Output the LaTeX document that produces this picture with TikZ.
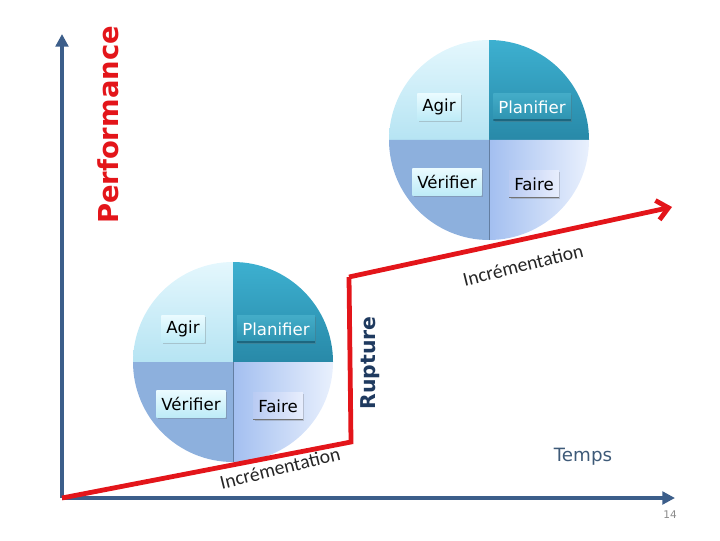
\documentclass[tikz,border=0pt]{standalone}
\usepackage{fontspec}
\setsansfont{DejaVu Sans}
\newfontfamily\incfont{Carlito}
\usetikzlibrary{arrows.meta, shadows, calc}
\definecolor{axisb}{HTML}{3C5E8A}
\definecolor{navy}{HTML}{1F3A5F}
\definecolor{tempc}{HTML}{3E5A78}
\definecolor{redl}{HTML}{E3151A}
\definecolor{cyanhi}{HTML}{E4F7FD}
\definecolor{cyanlo}{HTML}{B6E4F3}
\definecolor{tealhi}{HTML}{3DB0D0}
\definecolor{teallo}{HTML}{2889A8}
\definecolor{bluemid}{HTML}{8DB0DD}
\definecolor{lavl}{HTML}{A3BFF0}
\definecolor{lavr}{HTML}{E9F0FD}
\definecolor{boxhi}{HTML}{EAFBFF}
\definecolor{boxlo}{HTML}{BDEBF7}
\definecolor{boxtl}{HTML}{44ACC8}
\definecolor{boxtd}{HTML}{2D93B0}
\definecolor{boxfl}{HTML}{B9CBF3}
\definecolor{boxfr}{HTML}{E8EEFD}
\definecolor{edge}{HTML}{1D6780}
\definecolor{pagec}{HTML}{8A8A8A}

\begin{document}
\begin{tikzpicture}[
  x=0.025cm, y=0.025cm,
  font=\sffamily,
  axis/.style={draw=axisb, line width=2.8pt, -{Triangle[length=9pt, width=9pt]}},
  trend/.style={draw=redl, line width=3.4pt, line join=miter},
  lbl/.style={font=\sffamily\fontsize{11.8}{13}\selectfont, text=black,
              minimum height=0.68cm, inner xsep=3.6pt, inner ysep=0pt,
              drop shadow={shadow xshift=1.1pt, shadow yshift=-1.1pt,
                           opacity=0.28, fill=black!60}},
  light/.style={lbl, top color=boxhi, bottom color=boxlo},
  dark/.style={lbl, top color=boxtl, bottom color=boxtd, text=white,
               path picture={\draw[edge, line width=1.6pt]
                 (path picture bounding box.south west) --
                 (path picture bounding box.south east);}},
  soft/.style={lbl, left color=boxfl, right color=boxfr,
               path picture={\draw[black!55, line width=1.4pt]
                 (path picture bounding box.south west) --
                 (path picture bounding box.south east);}},
  incr/.style={font=\incfont\fontsize{14}{16}\selectfont, text=black!85, rotate=14},
]

\useasboundingbox (0,0) rectangle (720,540);

% ── axes ─────────────────────────────────────────────────────────────────────
\coordinate (o) at (62,42);
\coordinate (ytop) at (62,506);
\coordinate (xend) at (675,42);
\draw[axis] (o) -- (ytop);
\draw[axis] (o) -- (xend);

\node[rotate=90, text=redl, font=\sffamily\bfseries\fontsize{19.5}{22}\selectfont]
  (perf) at (108,415) {Performance};
\node[text=tempc, font=\sffamily\fontsize{13}{15}\selectfont] (temps) at (583,83) {Temps};
\node[text=pagec, font=\sffamily\fontsize{7.5}{9}\selectfont] (page) at (670,25) {14};

% ── PDCA wheels ──────────────────────────────────────────────────────────────
\foreach \cx/\cy/\n in {233/178/a, 489/400/b} {
  \coordinate (c\n) at (\cx,\cy);
  \shade[top color=cyanhi, bottom color=cyanlo]
    (c\n) -- ++(0,100) arc[start angle=90, end angle=180, radius=100] -- cycle;
  \shade[top color=tealhi, bottom color=teallo]
    (c\n) -- ++(100,0) arc[start angle=0, end angle=90, radius=100] -- cycle;
  \fill[bluemid]
    (c\n) -- ++(-100,0) arc[start angle=180, end angle=270, radius=100] -- cycle;
  \shade[left color=lavl, right color=lavr]
    (c\n) -- ++(0,-100) arc[start angle=270, end angle=360, radius=100] -- cycle;
  \draw[axisb!80, line width=0.5pt] (c\n) -- ++(0,-100);

  \node[light] (agir\n) at ($(c\n)+(-50,33)$) {Agir};
  \node[dark]  (plan\n) at ($(c\n)+(43,33)$)  {Planifier};
  \node[light] (veri\n) at ($(c\n)+(-42,-42)$) {Vérifier};
  \node[soft]  (fair\n) at ($(c\n)+(45,-44)$)  {Faire};
}

% ── trend line ───────────────────────────────────────────────────────────────
\coordinate (step1) at (351,98);
\coordinate (step2) at (349,263);
\coordinate (tip) at (672,333);
\draw[trend] (o) -- (step1) -- (step2);
\draw[trend, -{Straight Barb[length=8pt, width=14pt]}] (step2) -- (tip);

\node[incr] (inc1) at (280,72) {Incrémentation};
\node[incr] (inc2) at (523,275) {Incrémentation};
\node[rotate=90, text=navy, font=\sffamily\bfseries\fontsize{14.5}{17}\selectfont]
  (rupt) at (370,177) {Rupture};

\end{tikzpicture}
\end{document}
